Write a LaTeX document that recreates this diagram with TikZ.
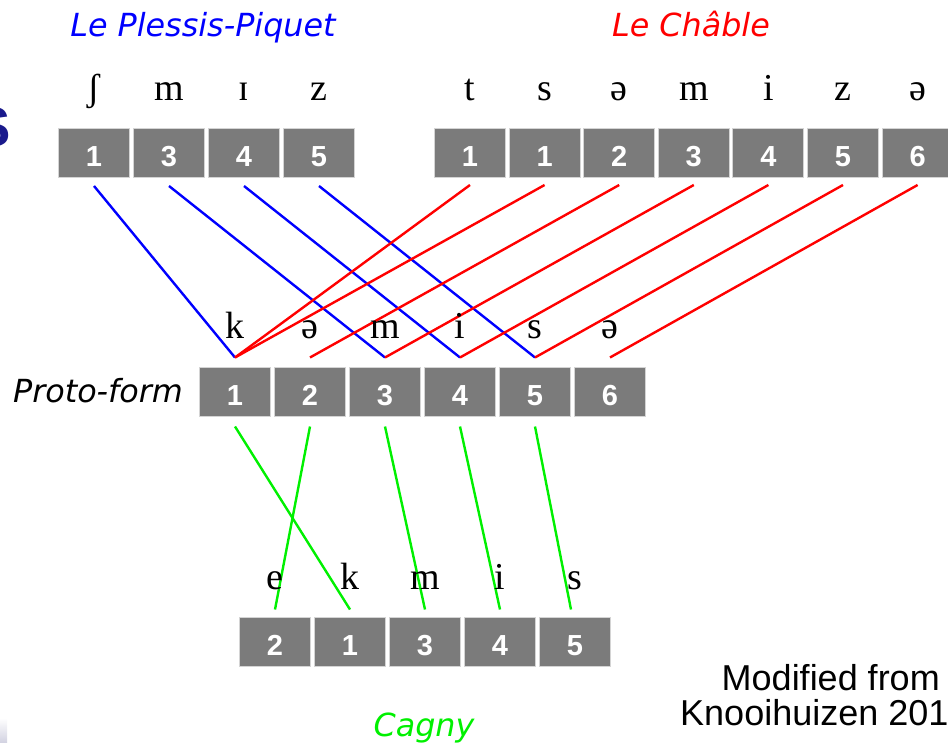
\documentclass[tikz,border=0pt]{standalone}
\usepackage{fontspec}
\newfontfamily\ipafont{Liberation Serif}
\newfontfamily\lblfont{DejaVu Sans}
\newfontfamily\numfont{Liberation Sans}
\definecolor{boxgray}{HTML}{7B7B7B}
\definecolor{boxedge}{HTML}{D4D4D4}
\definecolor{navy}{HTML}{1A1A8C}
\definecolor{lineblue}{HTML}{0000FF}
\definecolor{linered}{HTML}{FF0000}
\definecolor{linegreen}{HTML}{00F000}
\begin{document}
\begin{tikzpicture}[x=1pt,y=-1pt,
  seg/.style={draw=boxedge, line width=1pt, fill=boxgray, minimum width=71pt,
    minimum height=49pt, inner sep=0pt, text=white,
    font=\numfont\bfseries\fontsize{29}{29}\selectfont,
    text height=27.5pt, text depth=0pt},
  ipa/.style={anchor=base, inner sep=0pt, font=\ipafont\fontsize{38}{40}\selectfont},
  place/.style={anchor=base, inner sep=0pt, font=\lblfont\itshape\fontsize{31.8}{34}\selectfont},
  note/.style={inner sep=0pt, font=\numfont\fontsize{36}{38}\selectfont},
  link/.style={line width=2.4pt},
  blueln/.style={link, draw=lineblue},
  redln/.style={link, draw=linered},
  greenln/.style={link, draw=linegreen}]
\useasboundingbox (0,0) rectangle (948,743);

% slide remnants at the left border
\node[anchor=base east, inner sep=0pt, text=navy,
  font=\numfont\bfseries\fontsize{56}{56}\selectfont] (slideS) at (11,147) {S};
\shade[top color=white, bottom color=blue!20!gray!30] (0,718) rectangle (7,743);

% Le Plessis-Piquet
\foreach \i/\n/\x in {1/1/94, 2/3/169, 3/4/244, 4/5/319}
  \node[seg] (pp\i) at (\x,153) {\n};
% Le Chable
\foreach \i/\n in {1/1, 2/1, 3/2, 4/3, 5/4, 6/5, 7/6}
  \node[seg] (ch\i) at ({470+74.6*(\i-1)},153) {\n};
% proto-form
\foreach \i in {1,...,6}
  \node[seg] (pf\i) at ({235+75*(\i-1)},391.5) {\i};
% Cagny
\foreach \i/\n in {1/2, 2/1, 3/3, 4/4, 5/5}
  \node[seg] (cg\i) at ({275+75*(\i-1)},641.5) {\n};

% correspondences
\foreach \a/\b in {pp1/pf1, pp2/pf3, pp3/pf4, pp4/pf5}
  \draw[blueln] ([yshift=-8pt]\a.south) -- ([yshift=9pt]\b.north);
\foreach \a/\b in {ch1/pf1, ch2/pf1, ch3/pf2, ch4/pf3, ch5/pf4, ch6/pf5, ch7/pf6}
  \draw[redln] ([yshift=-7pt]\a.south) -- ([yshift=9pt]\b.north);
\foreach \a/\b in {pf1/cg2, pf2/cg1, pf3/cg3, pf4/cg4}
  \draw[greenln] ([yshift=-10pt]\a.south) -- ([yshift=7pt]\b.north);
\draw[greenln] ([yshift=-10pt]pf5.south) -- ([xshift=-4pt,yshift=7pt]cg5.north);

% segments
\foreach \i/\s in {1/ʃ, 2/m, 3/ɪ, 4/z}
  \node[ipa] (ppl\i) at (pp\i |- 0,101) {\s};
\foreach \i/\s in {1/t, 2/s, 3/ə, 4/m, 5/i, 6/z, 7/ə}
  \node[ipa] (chl\i) at (ch\i |- 0,101) {\s};
\foreach \i/\s in {1/k, 2/ə, 3/m, 4/i, 5/s, 6/ə}
  \node[ipa] (pfl\i) at (pf\i |- 0,338) {\s};
\foreach \i/\s in {1/e, 2/k, 3/m, 4/i, 5/s}
  \node[ipa] (cgl\i) at (cg\i |- 0,589) {\s};

% labels
\node[place, text=lineblue] (tpp) at (203,37) {Le Plessis-Piquet};
\node[place, text=linered] (tch) at (691,37) {Le Châble};
\node[place] (tpf) at (98,402) {Proto-form};
\node[place, text=linegreen] (tcg) at (424,736) {Cagny};
\node[note, anchor=base east] (src1) at (940,690) {Modified from};
\node[note, anchor=base west] (src2) at (680,725) {Knooihuizen 2012};
\end{tikzpicture}
\end{document}
